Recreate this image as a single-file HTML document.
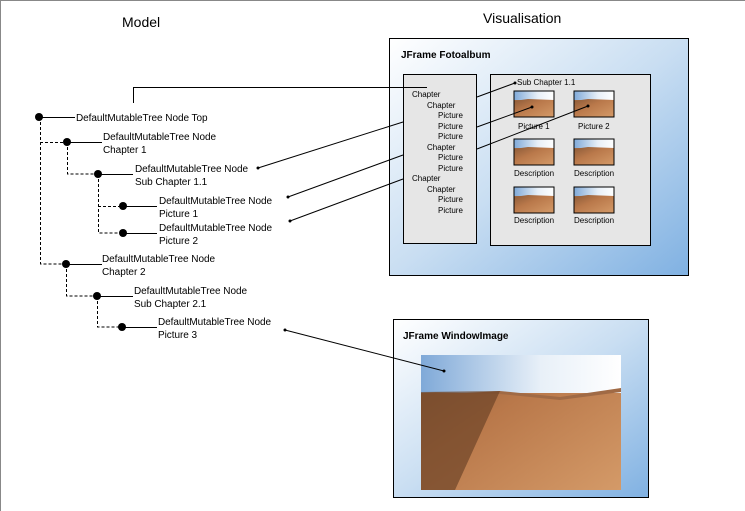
<!DOCTYPE html>
<html><head><meta charset="utf-8"><style>
html,body{margin:0;padding:0;background:#fff}
svg{display:block}
text{font-family:"Liberation Sans",sans-serif;fill:#000}
</style></head><body>
<svg width="745" height="511" viewBox="0 0 745 511" xmlns="http://www.w3.org/2000/svg">
<defs>
<linearGradient id="bg" x1="0" y1="0" x2="1" y2="1">
<stop offset="0" stop-color="#ffffff"/><stop offset="0.5" stop-color="#c9def2"/><stop offset="1" stop-color="#80b1e2"/>
</linearGradient>
<linearGradient id="sky" x1="0" y1="0" x2="1" y2="0">
<stop offset="0" stop-color="#7fa9d8"/><stop offset="0.6" stop-color="#e8f0f8"/><stop offset="1" stop-color="#ffffff"/>
</linearGradient>
<linearGradient id="sand" x1="0" y1="0" x2="1" y2="1">
<stop offset="0" stop-color="#8a5a38"/><stop offset="0.4" stop-color="#b9784a"/><stop offset="1" stop-color="#d49a68"/>
</linearGradient>
<g id="pic">
<rect width="40" height="26" fill="url(#sand)"/>
<rect width="40" height="9" fill="url(#sky)"/>
<path d="M0 10 L14 8 L40 9 L40 26 L0 26Z" fill="url(#sand)"/>
<rect width="40" height="26" fill="none" stroke="#000" stroke-width="1"/>
</g>
</defs>
<line x1="0.5" y1="0" x2="0.5" y2="511" stroke="#888"/>
<line x1="0" y1="0.5" x2="745" y2="0.5" stroke="#888"/>

<text x="122" y="27" font-size="14">Model</text>
<text x="483" y="23" font-size="14">Visualisation</text>

<g stroke="#000" stroke-width="1" fill="none">
<g stroke-dasharray="3,2">
<path d="M40.5 117V264H66"/>
<path d="M40 142.5H66"/>
<path d="M67.5 142V174H98"/>
<path d="M98.5 174V233H122"/>
<path d="M98 206.5H122"/>
<path d="M66.5 264V296H97"/>
<path d="M97.5 296V327H122"/>
</g>
<path d="M39 117.5H75M67 142.5H102M98 174.5H133M123 206.5H157M123 233.5H157M66 264.5H102M97 296.5H133M122 327.5H157"/>
</g>
<g fill="#000">
<circle cx="39" cy="117" r="4"/><circle cx="67" cy="142" r="4"/><circle cx="98" cy="174" r="4"/>
<circle cx="123" cy="206" r="4"/><circle cx="123" cy="233" r="4"/><circle cx="66" cy="264" r="4"/>
<circle cx="97" cy="296" r="4"/><circle cx="122" cy="327" r="4"/>
</g>
<g font-size="10" letter-spacing="-0.05">
<text x="76" y="121">DefaultMutableTree Node  Top</text>
<text x="103" y="140">DefaultMutableTree Node</text><text x="103" y="153">Chapter 1</text>
<text x="135" y="172">DefaultMutableTree Node</text><text x="135" y="185">Sub Chapter 1.1</text>
<text x="159" y="204">DefaultMutableTree Node</text><text x="159" y="217">Picture  1</text>
<text x="159" y="231">DefaultMutableTree Node</text><text x="159" y="244">Picture  2</text>
<text x="102" y="262">DefaultMutableTree Node</text><text x="102" y="275">Chapter 2</text>
<text x="134" y="294">DefaultMutableTree Node</text><text x="134" y="307">Sub Chapter 2.1</text>
<text x="158" y="325">DefaultMutableTree Node</text><text x="158" y="338">Picture  3</text>
</g>

<rect x="389.5" y="38.5" width="299" height="237" fill="url(#bg)" stroke="#000"/>
<text x="401" y="58" font-size="10" font-weight="bold">JFrame Fotoalbum</text>
<rect x="403.5" y="74.5" width="73" height="169" fill="#e6e6e6" stroke="#000"/>
<rect x="490.5" y="74.5" width="160" height="171" fill="#e6e6e6" stroke="#000"/>
<g font-size="8">
<text x="412" y="97">Chapter</text><text x="427" y="108">Chapter</text>
<text x="438" y="118">Picture</text><text x="438" y="129">Picture</text><text x="438" y="139">Picture</text>
<text x="427" y="150">Chapter</text><text x="438" y="160">Picture</text><text x="438" y="171">Picture</text>
<text x="412" y="181">Chapter</text><text x="427" y="192">Chapter</text>
<text x="438" y="202">Picture</text><text x="438" y="213">Picture</text>
<text x="517" y="85">Sub Chapter 1.1</text>
<text x="518" y="129">Picture 1</text><text x="578" y="129">Picture 2</text>
<text x="514" y="176">Description</text><text x="574" y="176">Description</text>
<text x="514" y="223">Description</text><text x="574" y="223">Description</text>
</g>
<use href="#pic" x="514" y="91"/><use href="#pic" x="574" y="91"/>
<use href="#pic" x="514" y="139"/><use href="#pic" x="574" y="139"/>
<use href="#pic" x="514" y="187"/><use href="#pic" x="574" y="187"/>

<rect x="393.5" y="319.5" width="255" height="178" fill="url(#bg)" stroke="#000"/>
<text x="403" y="339" font-size="10" font-weight="bold">JFrame WindowImage</text>
<rect x="421" y="355" width="200" height="135" fill="url(#sand)"/>
<rect x="421" y="355" width="200" height="38" fill="url(#sky)"/>
<path d="M421 392 L450 394 L500 391 L560 397 L621 388 L621 392 L560 400 L500 394Z" fill="#a06a45"/>
<path d="M421 392 L500 391 L455 490 L421 490Z" fill="#6e4528" opacity="0.7"/>

<g stroke="#000" stroke-width="1" fill="none">
<path d="M133.5 103V87.5H427"/>
<path d="M258 168L403 122M477 97L515 83"/>
<path d="M288 197L403 155M477 127L532 107"/>
<path d="M290 221L403 179M477 149L588 106"/>
<path d="M285 330L444 371"/>
</g>
<g fill="#000">
<circle cx="258" cy="168" r="1.5"/><circle cx="288" cy="197" r="1.5"/><circle cx="290" cy="221" r="1.5"/>
<circle cx="515" cy="83" r="1.5"/><circle cx="532" cy="107" r="1.5"/><circle cx="588" cy="106" r="1.5"/>
<circle cx="285" cy="330" r="1.5"/><circle cx="444" cy="371" r="1.5"/>
</g>
</svg>
</body></html>
